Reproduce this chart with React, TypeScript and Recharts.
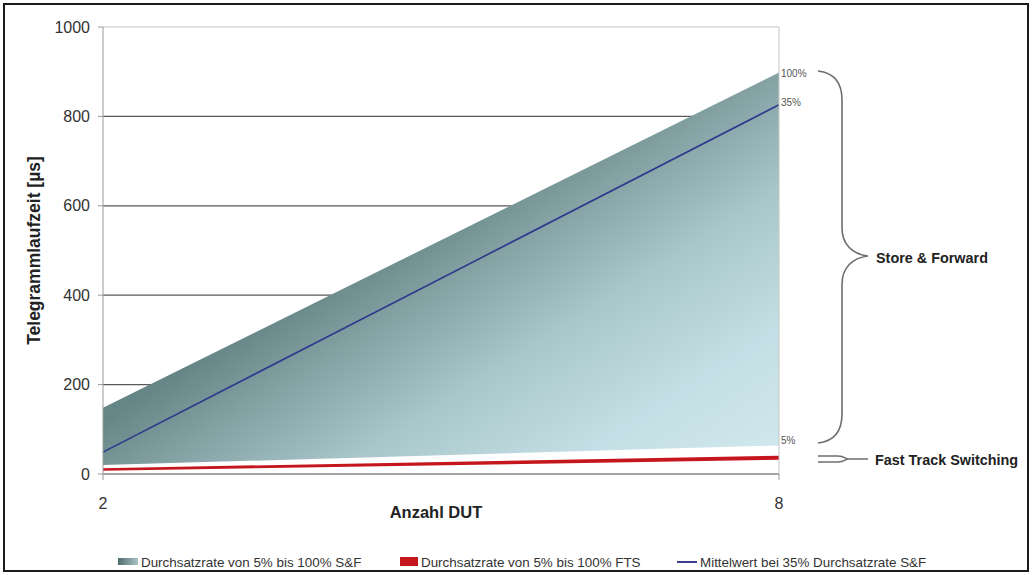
import React from 'react';
import { ComposedChart, Area, Line, XAxis, YAxis, CartesianGrid, Legend } from 'recharts';

// Anzahl DUT (x values)
const DUT = [2, 8];
// Store & Forward throughput bounds (µs)
const SF_100 = [148, 898];
const SF_5 = [20, 64];
// mean at 35% S&F
const SF_35 = [49, 826];
// Fast Track Switching band (µs)
const FTS_100 = [13, 41];
const FTS_5 = [7, 32];

const Y_TICKS = [0, 200, 400, 600, 800, 1000];
const X_TICKS = [2, 8];
const LEGEND_LABELS = [
  'Durchsatzrate von 5% bis 100% S&F',
  'Durchsatzrate von 5% bis 100% FTS',
  'Mittelwert bei 35% Durchsatzrate S&F',
];
const END_LABELS = ['100%', '35%', '5%'];

const data = DUT.map((x, i) => ({
  x,
  sf: [SF_5[i], SF_100[i]],
  fts: [FTS_5[i], FTS_100[i]],
  mean: SF_35[i],
  sfTop: SF_100[i],
  sfBottom: SF_5[i],
}));

const FONT = '"Liberation Sans", Arial, Helvetica, sans-serif';

const endLabel = (text: string, values: number[], dy: number) => (props: any) => {
  const last = values.length - 1;
  const isLast = props.index === last || (props.index === undefined && props.value === values[last]);
  if (!isLast) return null;
  const vb = props.viewBox || {};
  const x = props.x ?? vb.x;
  const y = props.y ?? vb.y;
  if (x === undefined || y === undefined) return null;
  return (
    <text
      key={`end-${text}`}
      x={x + 2}
      y={y + dy}
      fontSize={10}
      fill="#555"
      fontFamily={FONT}
      dominantBaseline="central"
    >
      {text}
    </text>
  );
};

const gridLine = (p: any) => {
  const isTop = typeof p.y === 'number' ? Math.abs(p.y1 - p.y) < 1 : p.index === Y_TICKS.length - 1;
  return (
    <line
      key={p.key}
      x1={p.x1}
      y1={p.y1}
      x2={p.x2}
      y2={p.y2}
      stroke={isTop ? '#c8c8c8' : '#5a5a5a'}
      strokeWidth={1.2}
    />
  );
};

const XLabel = (props: any) => {
  const vb = props.viewBox;
  return (
    <text
      x={vb.x + vb.width / 2 - 5}
      y={vb.y + 38}
      textAnchor="middle"
      dominantBaseline="central"
      fontSize={16.5}
      fontWeight="bold"
      fill="#222"
      fontFamily={FONT}
    >
      Anzahl DUT
    </text>
  );
};

const YLabel = (props: any) => {
  const vb = props.viewBox;
  const cx = vb.x + 34;
  const cy = vb.y + vb.height / 2;
  return (
    <text
      x={cx}
      y={cy}
      transform={`rotate(-90 ${cx} ${cy})`}
      textAnchor="middle"
      dominantBaseline="central"
      fontSize={17.5}
      fontWeight="bold"
      fill="#222"
      fontFamily={FONT}
    >
      Telegrammlaufzeit [µs]
    </text>
  );
};

const renderLegend = () => (
  <svg width={1032} height={30} style={{ display: 'block' }}>
    <defs>
      <linearGradient id="legGrad" x1="0" y1="0" x2="1" y2="0">
        <stop offset="0" stopColor="#4f6c6d" />
        <stop offset="1" stopColor="#a9c4c7" />
      </linearGradient>
    </defs>
    <rect x={118} y={12} width={20} height={7} fill="url(#legGrad)" />
    <text x={141} y={16} fontSize={13.4} fill="#333" fontFamily={FONT} dominantBaseline="central">
      {LEGEND_LABELS[0]}
    </text>
    <rect x={400} y={11} width={18} height={9} fill="#c4161c" />
    <text x={421} y={16} fontSize={13.4} fill="#333" fontFamily={FONT} dominantBaseline="central">
      {LEGEND_LABELS[1]}
    </text>
    <line x1={677} y1={16} x2={697} y2={16} stroke="#3a3f8f" strokeWidth={2} />
    <text x={700} y={16} fontSize={13.4} fill="#333" fontFamily={FONT} dominantBaseline="central">
      {LEGEND_LABELS[2]}
    </text>
  </svg>
);

export default function App() {
  return (
    <div
      style={{
        position: 'absolute',
        left: 0,
        top: 0,
        width: 1032,
        height: 575,
        background: '#fff',
        fontFamily: FONT,
      }}
    >
      <div
        style={{
          position: 'absolute',
          left: 3,
          top: 3,
          width: 1026,
          height: 569,
          border: '2px solid #1c1c1c',
          boxSizing: 'border-box',
        }}
      />
      <ComposedChart
        width={1032}
        height={575}
        data={data}
        margin={{ top: 27, right: 0, bottom: 71, left: 0 }}
      >
        <defs>
          <linearGradient id="sfGrad" x1="0.4" y1="0.45" x2="1" y2="1">
            <stop offset="0" stopColor="#668587" />
            <stop offset="0.17" stopColor="#84a2a4" />
            <stop offset="0.42" stopColor="#a9c7cb" />
            <stop offset="0.72" stopColor="#c4dfe5" />
            <stop offset="1" stopColor="#d1e9ee" />
          </linearGradient>
        </defs>
        <CartesianGrid yAxisId="l" vertical={false} horizontal={gridLine} />
        <XAxis
          dataKey="x"
          type="number"
          domain={[2, 8]}
          ticks={X_TICKS}
          height={30}
          tickSize={6}
          tickMargin={18}
          stroke="#9a9a9a"
          tick={{ fill: '#333', fontSize: 16 }}
          label={{ content: XLabel }}
        />
        <YAxis
          yAxisId="l"
          domain={[0, 1000]}
          ticks={Y_TICKS}
          width={103}
          tickSize={5}
          tickMargin={8}
          stroke="#9a9a9a"
          tick={{ fill: '#333', fontSize: 16 }}
          label={{ content: YLabel }}
        />
        <YAxis
          yAxisId="r"
          orientation="right"
          domain={[0, 1000]}
          ticks={Y_TICKS}
          width={253}
          tick={false}
          tickLine={false}
          stroke="#c4c4c4"
        />
        <Area
          yAxisId="l"
          dataKey="sf"
          type="linear"
          stroke="none"
          fill="url(#sfGrad)"
          fillOpacity={1}
          isAnimationActive={false}
        />
        <Area
          yAxisId="l"
          dataKey="fts"
          type="linear"
          stroke="none"
          fill="#c4161c"
          fillOpacity={1}
          isAnimationActive={false}
        />
        <Line
          yAxisId="l"
          dataKey="mean"
          type="linear"
          stroke="#2f3a8c"
          strokeWidth={1.6}
          dot={false}
          isAnimationActive={false}
          label={endLabel(END_LABELS[1], SF_35, -2)}
        />
        <Line
          yAxisId="l"
          dataKey="sfTop"
          type="linear"
          stroke="transparent"
          dot={false}
          isAnimationActive={false}
          label={endLabel(END_LABELS[0], SF_100, 1)}
        />
        <Line
          yAxisId="l"
          dataKey="sfBottom"
          type="linear"
          stroke="transparent"
          dot={false}
          isAnimationActive={false}
          label={endLabel(END_LABELS[2], SF_5, -5)}
        />
        <Legend
          layout="horizontal"
          verticalAlign="middle"
          align="center"
          wrapperStyle={{ top: 546, left: 0, width: 1032, height: 30 }}
          content={renderLegend}
        />
      </ComposedChart>
      <svg
        width={1032}
        height={575}
        style={{ position: 'absolute', left: 0, top: 0, pointerEvents: 'none' }}
      >
        <path
          d="M818,71 C836,73 842,84 842,100 L842,228 C842,244 852,254 868,256 C852,258 842,268 842,284 L842,414 C842,430 836,441 818,443"
          fill="none"
          stroke="#6e6e6e"
          strokeWidth={1.6}
        />
        <path
          d="M818,456 L838,456 C844,456 846,459 848,459 C846,459 844,462 838,462 L818,462 M848,459 L868,459"
          fill="none"
          stroke="#6e6e6e"
          strokeWidth={1.4}
        />
        <text x={876} y={258} fontSize={14.4} fontWeight="bold" fill="#222" fontFamily={FONT} dominantBaseline="central">
          Store &amp; Forward
        </text>
        <text x={875} y={460} fontSize={14.4} fontWeight="bold" fill="#222" fontFamily={FONT} dominantBaseline="central">
          Fast Track Switching
        </text>
      </svg>
    </div>
  );
}
